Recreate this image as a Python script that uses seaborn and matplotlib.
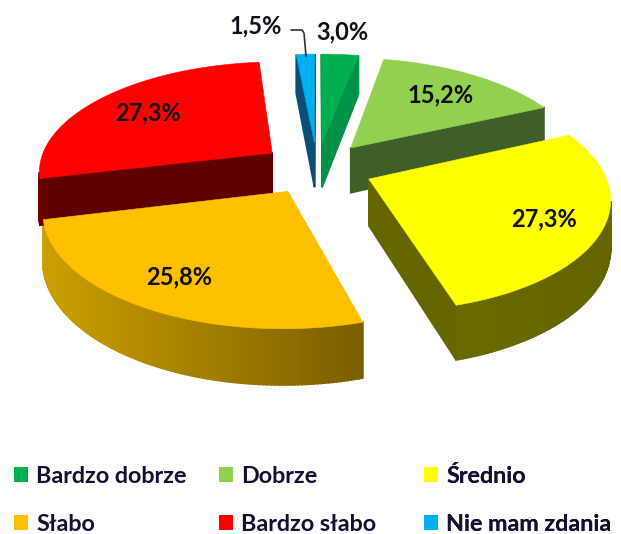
import numpy as np
import matplotlib
matplotlib.use("Agg")
import matplotlib.pyplot as plt
from matplotlib.patches import Patch
import seaborn as sns

# ---- data ----
categories = ["Bardzo dobrze", "Dobrze", "Średnio", "Słabo", "Bardzo słabo", "Nie mam zdania"]
values = [3.0, 15.2, 27.3, 25.8, 27.3, 1.5]
value_labels = ["3,0%", "15,2%", "27,3%", "25,8%", "27,3%", "1,5%"]

# ---- styles ----
top_hex = ["#00B050", "#92D050", "#FFFF00", "#FFC000", "#FF0000", "#00B0F0"]
radial_hex = ["#009247", "#3F5F28", "#666600", "#806000", "#600000", "#0B4F77"]
arc_left_hex = ["#00803F", "#3F5F28", "#6A6A00", "#CCA000", "#700000", "#0B4F77"]
arc_right_hex = ["#00803F", "#3F5F28", "#646400", "#7A5E00", "#700000", "#0B4F77"]
label_xy = [(342, 32), (441, 95), (544, 219), (179, 277), (148, 113), (256, 26)]
legend_left = [14, 219, 424]

# projection parameters (pixel space)
X0, Y0, R, SQ, K, EXPL, H = 317, 168, 234, 109, 0.15, 0.24, 46

sns.set_theme(style="white", rc={"font.family": ["Lato", "DejaVu Sans"], "font.weight": "bold"})
palette = sns.color_palette(top_hex)

fig = plt.figure(figsize=(6.21, 5.34), dpi=100)
ax = fig.add_axes([0, 0, 1, 1])
ax.set_xlim(0, 621)
ax.set_ylim(534, 0)
ax.axis("off")


def project(u, v, z=0.0):
    w = 1 + K * v
    return X0 + R * u / w, Y0 - SQ * v / w + z * H / w


def hex_mix(a, b, t):
    ca, cb = np.array(matplotlib.colors.to_rgb(a)), np.array(matplotlib.colors.to_rgb(b))
    return tuple(ca + (cb - ca) * t)


total = sum(values)
fractions = np.array(values) / total
edges = np.concatenate([[0], np.cumsum(fractions)]) * 2 * np.pi

for i in range(len(values)):
    a0, a1 = edges[i], edges[i + 1]
    mid = (a0 + a1) / 2
    ou, ov = EXPL * np.sin(mid), EXPL * np.cos(mid)
    th = np.linspace(a0, a1, 120)
    us = np.concatenate([[ou], ou + np.sin(th)])
    vs = np.concatenate([[ov], ov + np.cos(th)])
    tx, ty = project(us, vs)
    bx, by = project(us, vs, 1.0)
    n = len(us)
    xmin, xmax = tx[1:].min(), tx[1:].max()
    for j in range(n):
        k = (j + 1) % n
        if tx[k] >= tx[j]:
            continue  # wall faces away from the viewer
        if j == 0 or k == 0:
            col = radial_hex[i]
        else:
            t = ((tx[j] + tx[k]) / 2 - xmin) / max(xmax - xmin, 1)
            col = hex_mix(arc_left_hex[i], arc_right_hex[i], t)
        ax.fill([tx[j], tx[k], bx[k], bx[j]], [ty[j], ty[k], by[k], by[j]],
                color=col, lw=1.2, zorder=2)
    ax.fill(tx, ty, color=palette[i], lw=0.4, zorder=3)

for txt, (x, y) in zip(value_labels, label_xy):
    ax.text(x, y, txt, ha="center", va="center", fontsize=17, fontweight="bold",
            color="#101018", zorder=6)

# leader line of the smallest slice
ax.plot([291, 302, 304, 306], [30, 30, 33, 56], color="#303030", lw=1.2, zorder=5)

# three one-column legends, so each column sits at its own x
for col, left in enumerate(legend_left):
    idx = [col, col + 3]
    handles = [Patch(facecolor=palette[i], edgecolor="none", label=categories[i]) for i in idx]
    leg = ax.legend(handles=handles, ncols=1, frameon=False, loc="lower left",
                    bbox_to_anchor=(left / 621, -0.002),
                    fontsize=16.8, handlelength=0.6, handleheight=0.6, handletextpad=0.36,
                    labelspacing=1.17, borderpad=0, borderaxespad=0, labelcolor="#101030")
    ax.add_artist(leg)

fig.savefig("out.png", dpi=100)
